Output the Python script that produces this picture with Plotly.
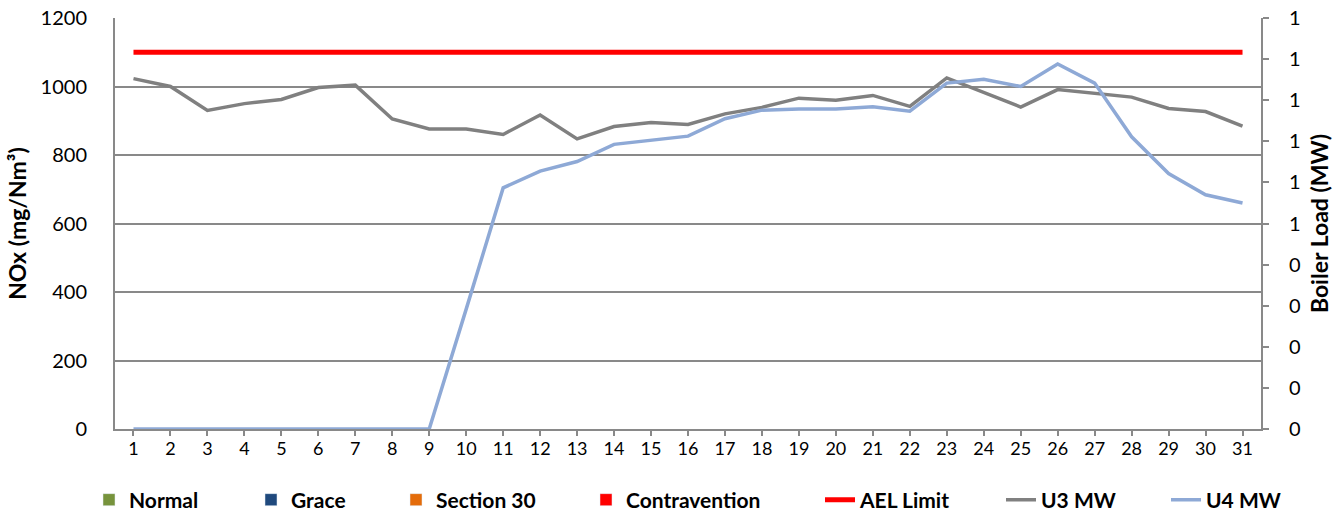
import plotly.graph_objects as go

days = list(range(1, 32))
u3_mw = [1023, 1000, 930, 950, 962, 997, 1004, 905, 876, 876, 860, 917, 847, 883, 895, 889,
         920, 939, 966, 960, 974, 942, 1025, 982, 940, 991, 979, 969, 936, 927, 884]
u4_mw = [0, 0, 0, 0, 0, 0, 0, 0, 0, 350, 704, 753, 781, 831, 844, 855,
         906, 931, 934, 934, 941, 928, 1010, 1021, 1000, 1066, 1010, 853, 746, 684, 660]
ael_limit = [1100] * 31
normal = [None] * 31
grace = [None] * 31
section30 = [None] * 31
contravention = [None] * 31

left_ticks = [0, 200, 400, 600, 800, 1000, 1200]
right_ticks = [0, 0.1, 0.2, 0.3, 0.4, 0.5, 0.6, 0.7, 0.8, 0.9, 1.0]
right_labels = ["0", "0", "0", "0", "0", "1", "1", "1", "1", "1", "1"]

FONT = "Lato"
GRID = "#898989"

# plot area in pixels (for placing the separate legend entries)
PL, PR, PT, PB = 115, 1261, 18, 429
W, H = 1343, 515
text_starts = [129, 291, 436, 626, 860, 1041, 1206]

fig = go.Figure()
bar_defs = [("Normal", normal, "#77933C"), ("Grace", grace, "#1F497D"),
            ("Section 30", section30, "#E46C0A"), ("Contravention", contravention, "#FF0000")]
for i, (name, vals, col) in enumerate(bar_defs):
    fig.add_trace(go.Bar(x=days, y=vals, name=name, marker_color=col,
                         legend="legend" if i == 0 else f"legend{i+1}"))

line_defs = [("AEL Limit", ael_limit, "#FF0000", 5),
             ("U3 MW", u3_mw, "#808080", 3.5),
             ("U4 MW", u4_mw, "#8EA9D6", 3.5)]
for j, (name, vals, col, w) in enumerate(line_defs):
    fig.add_trace(go.Scatter(x=days, y=vals, name=name, mode="lines",
                             line=dict(color=col, width=w), legend=f"legend{j+5}"))

# invisible trace to activate secondary axis
fig.add_trace(go.Scatter(x=[days[0]], y=[None], yaxis="y2", showlegend=False, hoverinfo="skip"))

legend_y = (PB - 500) / (PB - PT)
legends = {}
for k, ts in enumerate(text_starts):
    key = "legend" if k == 0 else f"legend{k+1}"
    legends[key] = dict(orientation="h", x=(ts - 40 - PL) / (PR - PL), xanchor="left",
                        y=legend_y, yanchor="middle", bgcolor="rgba(0,0,0,0)",
                        font=dict(family=FONT, size=21, color="#000000", weight="bold"))

fig.update_layout(
    width=W, height=H,
    margin=dict(l=PL, r=W - PR, t=PT, b=H - PB, autoexpand=False),
    plot_bgcolor="white", paper_bgcolor="white",
    font=dict(family=FONT, color="#000000"),
    showlegend=True,
    xaxis=dict(range=[0.5, 31.5], tickmode="array", tickvals=days, ticktext=[str(d) for d in days],
               showgrid=False, showline=True, linecolor=GRID, linewidth=2, ticks="outside",
               ticklen=5, tickcolor=GRID, tickwidth=1.5, tickfont=dict(size=18, family=FONT),
               zeroline=False, fixedrange=True, automargin=False, ticklabelstandoff=-3),
    yaxis=dict(range=[0, 1200], tickvals=left_ticks, showgrid=True, gridcolor=GRID, gridwidth=1.5,
               showline=True, linecolor=GRID, linewidth=2, ticks="", zeroline=False,
               tickfont=dict(size=20, family=FONT), automargin=False, ticklabelstandoff=22,
               title=dict(text="NOx (mg/Nm³)", font=dict(size=23, family=FONT, weight="bold"),
                          standoff=8)),
    yaxis2=dict(range=[0, 1], overlaying="y", side="right", tickmode="array", tickvals=right_ticks,
                ticktext=right_labels, showgrid=False, showline=True, linecolor=GRID, linewidth=2,
                ticks="outside", ticklen=6, tickcolor=GRID, tickwidth=1.5, zeroline=False,
                tickfont=dict(size=20, family=FONT), automargin=False, ticklabelstandoff=16,
                title=dict(text="Boiler Load (MW)", font=dict(size=23, family=FONT, weight="bold"),
                           standoff=12)),
    barmode="group",
    **legends,
)

fig.write_html("out.html", config={"displayModeBar": False},
               post_script="document.body.style.margin='0';document.body.style.padding='0';")
